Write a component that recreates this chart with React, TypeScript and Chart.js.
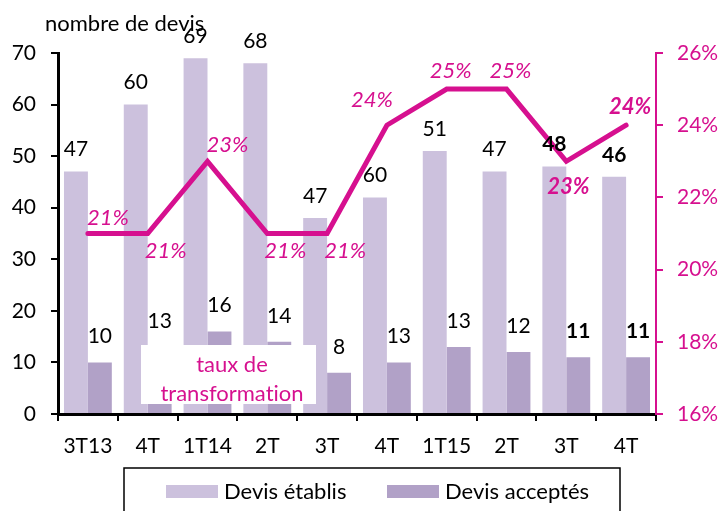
import React, { useEffect, useRef } from "react";
import { Chart, registerables } from "chart.js";

Chart.register(...registerables);

const categories = ["3T13", "4T", "1T14", "2T", "3T", "4T", "1T15", "2T", "3T", "4T"];
const devisEtablis = [47, 60, 69, 68, 38, 42, 51, 47, 48, 46];
const devisEtablisLabels = ["47", "60", "69", "68", "47", "60", "51", "47", "48", "46"];
const devisAcceptes = [10, 13, 16, 14, 8, 10, 13, 12, 11, 11];
const devisAcceptesLabels = ["10", "13", "16", "14", "8", "13", "13", "12", "11", "11"];
const tauxTransformation = [21, 21, 23, 21, 21, 24, 25, 25, 23, 24];
const tauxLabels = ["21%", "21%", "23%", "21%", "21%", "24%", "25%", "25%", "23%", "24%"];
const tauxPlacement = ["ne", "se", "ne", "se", "se", "nw", "n", "n", "s", "n"];
const boldLabels = [false, false, false, false, false, false, false, false, true, true];
const leftTicks = [0, 10, 20, 30, 40, 50, 60, 70];
const rightTicks = [16, 18, 20, 22, 24, 26];

const FONT = "Lato, 'Open Sans', sans-serif";
const MAGENTA = "#D6108F";
const LIGHT = "#CCC1DD";
const DARK = "#B1A1C7";

const placementOffsets: Record<string, [number, number]> = {
  ne: [20, -16],
  se: [18, 17],
  nw: [-15, -25],
  n: [4, -18],
  s: [2, 26],
};

const overlayPlugin = {
  id: "overlay",
  afterDatasetsDraw(chart: any) {
    const ctx = chart.ctx as CanvasRenderingContext2D;
    ctx.save();
    // white text box "taux de transformation"
    ctx.fillStyle = "#FFFFFF";
    ctx.fillRect(141, 345, 175, 59);
    ctx.fillStyle = MAGENTA;
    ctx.font = `22px ${FONT}`;
    ctx.textAlign = "center";
    ctx.textBaseline = "middle";
    ctx.fillText("taux de", 232, 365);
    ctx.fillText("transformat\u200Cion", 232, 394);

    // bar labels
    const m0 = chart.getDatasetMeta(0);
    const m1 = chart.getDatasetMeta(1);
    const m2 = chart.getDatasetMeta(2);
    ctx.fillStyle = "#000";
    m0.data.forEach((el: any, i: number) => {
      ctx.font = `${boldLabels[i] ? "bold " : ""}21px ${FONT}`;
      ctx.fillText(devisEtablisLabels[i], el.x, el.y - 22);
    });
    m1.data.forEach((el: any, i: number) => {
      ctx.font = `${boldLabels[i] ? "bold " : ""}21px ${FONT}`;
      ctx.fillText(devisAcceptesLabels[i], el.x, el.y - 26);
    });
    // line labels
    ctx.fillStyle = MAGENTA;
    m2.data.forEach((el: any, i: number) => {
      const [dx, dy] = placementOffsets[tauxPlacement[i]];
      ctx.font = `italic ${boldLabels[i] ? "bold " : ""}22px ${FONT}`;
      ctx.fillText(tauxLabels[i], el.x + dx, el.y + dy);
    });

    // axis title
    ctx.fillStyle = "#000";
    ctx.textAlign = "left";
    ctx.font = `22px ${FONT}`;
    ctx.fillText("nombre de devis", 45, 24);

    // legend
    ctx.strokeStyle = "#000";
    ctx.lineWidth = 1.5;
    ctx.strokeRect(124, 468, 496, 60);
    const items = [
      { label: chart.data.datasets[0].label, color: LIGHT, x: 166 },
      { label: chart.data.datasets[1].label, color: DARK, x: 387 },
    ];
    items.forEach((it) => {
      ctx.fillStyle = it.color;
      ctx.fillRect(it.x, 485, 52, 13);
      ctx.fillStyle = "#000";
      ctx.textAlign = "left";
      ctx.fillText(it.label, it.x + 58, 492);
    });
    ctx.restore();
  },
};

export default function App() {
  const ref = useRef<HTMLCanvasElement | null>(null);
  useEffect(() => {
    if (!ref.current) return;
    const chart = new Chart(ref.current, {
      type: "bar",
      data: {
        labels: categories,
        datasets: [
          {
            type: "bar",
            label: "Devis établis",
            data: devisEtablis,
            backgroundColor: LIGHT,
            yAxisID: "y",
            order: 1,
            categoryPercentage: 0.8,
            barPercentage: 1.0,
          },
          {
            type: "bar",
            label: "Devis acceptés",
            data: devisAcceptes,
            backgroundColor: DARK,
            yAxisID: "y",
            order: 1,
            categoryPercentage: 0.8,
            barPercentage: 1.0,
          },
          {
            type: "line",
            label: "taux de transformation",
            data: tauxTransformation,
            borderColor: MAGENTA,
            backgroundColor: MAGENTA,
            borderWidth: 5,
            pointRadius: 0,
            borderCapStyle: "round",
            borderJoinStyle: "miter",
            tension: 0,
            yAxisID: "y1",
            order: 0,
          } as any,
        ],
      },
      options: {
        responsive: false,
        animation: false,
        devicePixelRatio: 1,
        layout: { padding: { top: 53, left: 0, right: 0, bottom: 0 } },
        plugins: { legend: { display: false }, tooltip: { enabled: false }, title: { display: false } },
        scales: {
          x: {
            grid: { offset: true, drawOnChartArea: false, drawTicks: true, tickLength: 7, color: "#000", lineWidth: 2 },
            border: { color: "#000", width: 3 },
            ticks: { color: "#000", font: { family: FONT, size: 21 }, padding: 13, maxRotation: 0 },
            afterFit: (s: any) => { s.height = 97; },
          },
          y: {
            position: "left",
            min: 0,
            max: 70,
            afterBuildTicks: (s: any) => { s.ticks = leftTicks.map((v) => ({ value: v })); },
            grid: { drawOnChartArea: false, drawTicks: true, tickLength: 7, color: "#000", lineWidth: 2 },
            border: { color: "#000", width: 3 },
            ticks: { color: "#000", font: { family: FONT, size: 21 }, padding: 15 },
            afterFit: (s: any) => { s.width = 58; },
          },
          y1: {
            position: "right",
            min: 16,
            max: 26,
            afterBuildTicks: (s: any) => { s.ticks = rightTicks.map((v) => ({ value: v })); },
            grid: { drawOnChartArea: false, drawTicks: true, tickLength: 7, color: MAGENTA, lineWidth: 2 },
            border: { color: MAGENTA, width: 2 },
            ticks: { color: MAGENTA, font: { family: FONT, size: 21 }, padding: 14, callback: (v: any) => `${v}%` },
            afterFit: (s: any) => { s.width = 66; },
          },
        },
      },
      plugins: [overlayPlugin],
    });
    return () => chart.destroy();
  }, []);
  return (
    <div style={{ position: "absolute", left: 0, top: 0, width: 722, height: 511, background: "#fff" }}>
      <canvas ref={ref} width={722} height={511} />
    </div>
  );
}
